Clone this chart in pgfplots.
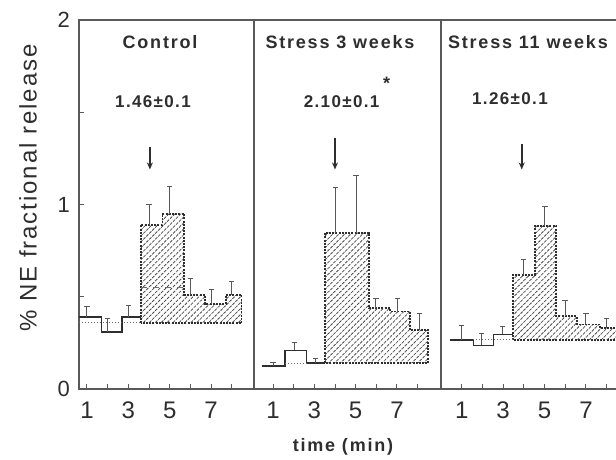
\documentclass[border=0pt]{standalone}
\usepackage{pgfplots}
\pgfplotsset{compat=1.18}
\usepackage{fontspec}
\setmainfont{Liberation Sans}
\usetikzlibrary{patterns.meta,arrows.meta}
\definecolor{ink}{gray}{0.18}
\definecolor{axisgray}{gray}{0.35}
\newcommand\titlefont{\fontsize{9}{11}\selectfont\bfseries\addfontfeatures{LetterSpace=10}}
\newcommand\annfont{\fontsize{8.5}{10}\selectfont\bfseries\addfontfeatures{LetterSpace=8}}
\pgfplotsset{
  panel/.style={
    scale only axis, anchor=south west, height=184.5pt,
    ymin=0, ymax=2,
    xtick={1,...,8}, xticklabels={1,,3,,5,,7,},
    xtick pos=left, tick align=inside,
    major tick length=2.5pt,
    tick style={axisgray, line width=0.5pt},
    axis line style={axisgray, line width=0.6pt},
    /pgf/number format/assume math mode=true,
    xticklabel style={font=\fontsize{12}{14}\selectfont, text=ink, yshift=-3pt},
    yticklabel style={font=\fontsize{11}{13}\selectfont, text=ink, xshift=-1pt},
    clip=true,
  },
  steps/.style={const plot mark left, ink, line width=0.7pt, mark=none},
  hatch/.style={pattern={Lines[angle=45,distance=2.1pt,line width=0.4pt]}, pattern color=black!70, draw=ink, dash pattern=on 1pt off 0.6pt, line width=0.9pt},
  ebars/.style={draw=none, mark=none, error bars/.cd, y dir=plus, y explicit,
    error bar style={draw=ink!80, solid, line width=0.5pt},
    error mark options={rotate=90, mark size=1.3pt, draw=ink!80, solid, line width=0.5pt}},
  base/.style={ink!70, densely dotted, line width=0.5pt},
}
\begin{document}
\begin{tikzpicture}
\useasboundingbox (0,0) rectangle (308pt,230pt);
\clip (0,0) rectangle (308pt,230pt);
\fill[white] (0,0) rectangle (308pt,230pt);

% ---------------- Panel 1: Control ----------------
\begin{axis}[panel, at={(39.5pt,35.5pt)}, width=87.5pt,
  xmin=0.614, xmax=9.07,
  ytick={0,0.5,1,1.5,2}, yticklabels={0,,1,,2}, ytick pos=left]
\addplot[hatch] coordinates {(3.6,0.356) (3.6,0.89) (4.65,0.89) (4.65,0.95) (5.7,0.95) (5.7,0.51) (6.7,0.51) (6.7,0.46) (7.7,0.46) (7.7,0.51) (8.47,0.51) (8.47,0.356)} -- cycle;
\addplot[steps] coordinates {(0.57,0.39) (1.7,0.31) (2.7,0.39) (3.6,0.39)};
\addplot[base] coordinates {(0.6,0.36) (3.6,0.36)};
\addplot[base, dashed] coordinates {(3.6,0.55) (5.7,0.55)};
\addplot[ebars] coordinates {
 (1,0.39) +- (0,0.056)
 (2,0.31) +- (0,0.07)
 (3,0.39) +- (0,0.065)
 (4,0.89) +- (0,0.11)
 (5,0.95) +- (0,0.15)
 (6,0.51) +- (0,0.09)
 (7,0.46) +- (0,0.08)
 (8,0.51) +- (0,0.07)};
\node[text=ink, font=\titlefont] at (axis cs:4.53,1.88) {Control};
\node[text=ink, font=\annfont] at (axis cs:4.19,1.56) {1.46±0.1};
\draw[ink, line width=0.8pt, -{Stealth[length=3.5pt,width=3pt]}] (axis cs:4.04,1.31) -- (axis cs:4.04,1.19);
\end{axis}

% ---------------- Panel 2: Stress 3 weeks ----------------
\begin{axis}[panel, at={(127pt,35.5pt)}, width=93.5pt,
  xmin=0.08, xmax=9.13, ytick=\empty]
\addplot[hatch] coordinates {(3.52,0.14) (3.52,0.847) (5.65,0.847) (5.65,0.437) (6.66,0.437) (6.66,0.42) (7.63,0.42) (7.63,0.32) (8.51,0.32) (8.51,0.14)} -- cycle;
\addplot[steps] coordinates {(0.47,0.125) (1.58,0.21) (2.63,0.14) (3.52,0.14)};
\addplot[base] coordinates {(1.58,0.14) (2.63,0.14)};
\addplot[ebars] coordinates {
 (1.0,0.125) +- (0,0.018)
 (2.03,0.21) +- (0,0.04)
 (3.04,0.14) +- (0,0.025)
 (4.03,0.847) +- (0,0.243)
 (5.02,0.847) +- (0,0.308)
 (5.98,0.437) +- (0,0.053)
 (7.03,0.42) +- (0,0.07)
 (8.07,0.32) +- (0,0.09)};
\node[text=ink, font=\titlefont] at (axis cs:4.24,1.88) {Stress 3 weeks};
\node[text=ink, font=\annfont] at (axis cs:4.32,1.56) {2.10±0.1};
\node[text=ink, font=\fontsize{9}{10}\selectfont\bfseries] at (axis cs:6.5,1.655) {*};
\draw[ink, line width=0.8pt, -{Stealth[length=3.5pt,width=3pt]}] (axis cs:4.0,1.36) -- (axis cs:4.0,1.19);
\end{axis}

% ---------------- Panel 3: Stress 11 weeks ----------------
\begin{axis}[panel, at={(220.5pt,35.5pt)}, width=100pt,
  xmin=0, xmax=9.66, ytick=\empty]
\addplot[hatch] coordinates {(3.49,0.266) (3.49,0.62) (4.54,0.62) (4.54,0.885) (5.56,0.885) (5.56,0.396) (6.55,0.396) (6.55,0.35) (7.68,0.35) (7.68,0.33) (8.7,0.33) (8.7,0.266)} -- cycle;
\addplot[steps] coordinates {(0.43,0.266) (1.56,0.236) (2.53,0.296) (3.49,0.296)};
\addplot[base] coordinates {(1.56,0.266) (3.49,0.266)};
\addplot[ebars] coordinates {
 (1,0.266) +- (0,0.08)
 (1.97,0.236) +- (0,0.064)
 (2.98,0.296) +- (0,0.044)
 (4,0.62) +- (0,0.08)
 (5.02,0.885) +- (0,0.105)
 (5.99,0.396) +- (0,0.084)
 (7,0.35) +- (0,0.06)
 (8,0.33) +- (0,0.05)};
\node[text=ink, font=\titlefont] at (axis cs:4.2,1.88) {Stress 11 weeks};
\node[text=ink, font=\annfont] at (axis cs:3.33,1.575) {1.26±0.1};
\draw[ink, line width=0.8pt, -{Stealth[length=3.5pt,width=3pt]}] (axis cs:3.9,1.33) -- (axis cs:3.9,1.19);
\end{axis}

% ---------------- axis titles ----------------
\node[rotate=90, text=ink, font=\fontsize{12}{14}\selectfont\addfontfeatures{LetterSpace=8}] at (14pt,136pt) {\% NE fractional release};
\node[text=ink, font=\fontsize{9}{11}\selectfont\bfseries\addfontfeatures{LetterSpace=10}] at (171.5pt,6.5pt) {time (min)};
\end{tikzpicture}
\end{document}
